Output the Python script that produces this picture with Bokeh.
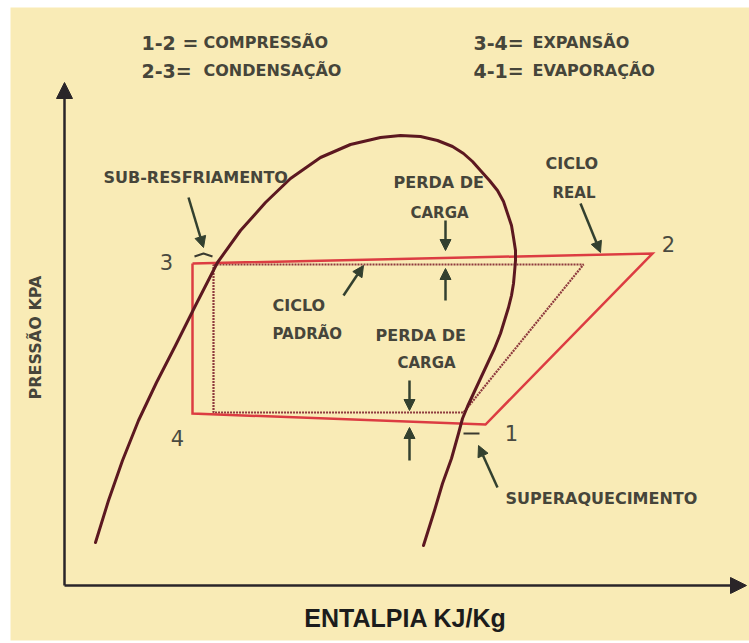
from bokeh.plotting import figure
from bokeh.models import ColumnDataSource, Range1d, Arrow, NormalHead
from bokeh.embed import file_html
from bokeh.resources import INLINE
from bokeh.core.properties import value
import math

# Drawing units: enthalpy h (right) and pressure p (up), origin at the axes corner.

# Saturation dome (liquid branch up to the critical point, then vapour branch down)
dome_h = [31, 44, 58, 74, 92, 111, 132, 153, 176, 201, 226, 256, 286, 316, 336, 356,
          373, 388, 399, 408, 416, 425, 433, 439, 443, 447, 449, 451, 451, 450, 449,
          447, 444, 440, 436, 430, 423, 416, 409, 403, 398, 394, 387, 378, 370, 359]
dome_p = [43, 85, 125, 165, 203, 240, 282, 323, 355, 383, 407, 428, 441, 448, 450, 449,
          445, 439, 432, 424, 415, 405, 395, 384, 372, 360, 348, 335, 325, 313, 302,
          290, 278, 265, 252, 237, 222, 207, 192, 179, 167, 152, 127, 102, 75, 40]

# Real cycle: 3 -> 2 -> 1 -> 4 -> 3
real_h = [128, 588, 421, 128, 128]
real_p = [322, 332, 161, 172, 322]

# Standard (ideal) cycle
std_h = [149, 519, 399, 149, 149]
std_p = [321, 321, 173, 173, 321]

# Sub-cooling and superheating marks
subcool_h = [130, 139, 148]
subcool_p = [329, 332, 329]
superheat_h = [399, 415]
superheat_p = [152, 152]

# State point numbers
pt_text = ["3", "2", "4", "1"]
pt_h = [102, 604, 113, 447]
pt_p = [324, 342, 148, 153]

# Legend of processes
leg_num = ["1-2 =", "2-3=", "3-4=", "4-1="]
leg_word = ["COMPRESSÃO", "CONDENSAÇÃO", "EXPANSÃO", "EVAPORAÇÃO"]
leg_h_num = [77, 77, 409, 409]
leg_h_word = [139, 139, 468, 468]
leg_p = [543, 515, 543, 515]

# Annotation notes
note_text = ["SUB-RESFRIAMENTO", "PERDA DE", "CARGA", "CICLO", "REAL",
             "CICLO", "PADRÃO", "PERDA DE", "CARGA", "SUPERAQUECIMENTO"]
note_h = [39, 329, 346, 481, 488, 208, 208, 311, 333, 441]
note_p = [408, 403, 373, 422, 393, 280, 252, 250, 223, 87]
note_size = ["16px", "16px", "15px", "16px", "15px", "16px", "15px", "16px", "15px", "16px"]

# Pointer arrows (start -> tip)
arr_h0 = [124, 516, 279, 381, 381, 345, 345, 433]
arr_p0 = [388, 382, 290, 365, 285, 205, 125, 98]
arr_h1 = [139, 536, 299, 381, 381, 345, 345, 414]
arr_p1 = [338, 333, 320, 335, 317, 175, 158, 140]

BG = "#f9ebb6"
TXT = "#46453a"
ARR = "#33402f"

p = figure(width=749, height=643, output_backend="svg", toolbar_location=None,
           x_range=Range1d(-64, 685), y_range=Range1d(-58, 585),
           x_axis_location=None, y_axis_location=None, min_border=0)
p.grid.visible = False
p.outline_line_color = None
p.background_fill_color = "white"
p.border_fill_color = "white"

# paper
p.quad(left=[-54], right=[685], bottom=[-55], top=[578], fill_color=BG, line_color=None)

# axes with arrow heads
axes = ColumnDataSource(dict(x0=[0, 0], y0=[0, 0], x1=[0, 682], y1=[503, 0]))
p.add_layout(Arrow(source=axes, x_start="x0", y_start="y0", x_end="x1", y_end="y1",
                   line_color="#2a2528", line_width=2.5,
                   end=NormalHead(size=16, fill_color="#2a2528", line_color="#2a2528")))

# standard cycle (dotted)
p.line(std_h, std_p, line_color="#8e3a3e", line_width=2.2, line_dash="2 1")

# real cycle
p.line(real_h, real_p, line_color="#dc3c42", line_width=2.5, line_join="miter")

# saturation dome
p.line(dome_h, dome_p, line_color="#5c1820", line_width=3, line_join="round", line_cap="round")

# sub-cooling / superheating marks
p.line(subcool_h, subcool_p, line_color="#3a3a30", line_width=2)
p.line(superheat_h, superheat_p, line_color="#3a3a30", line_width=2)

# pointer arrows
arrows = ColumnDataSource(dict(x0=arr_h0, y0=arr_p0, x1=arr_h1, y1=arr_p1))
p.add_layout(Arrow(source=arrows, x_start="x0", y_start="y0", x_end="x1", y_end="y1",
                   line_color=ARR, line_width=2.5,
                   end=NormalHead(size=11, fill_color=ARR, line_color=ARR)))

# process legend
p.text(leg_h_num, leg_p, text=leg_num, text_font=value("DejaVu Sans"), text_font_style="bold",
       text_font_size="19px", text_color=TXT, text_align="left", text_baseline="alphabetic")
p.text(leg_h_word, leg_p, text=leg_word, text_font=value("DejaVu Sans"), text_font_style="bold",
       text_font_size="16px", text_color=TXT, text_align="left", text_baseline="alphabetic")

# notes
notes = ColumnDataSource(dict(x=note_h, y=note_p, t=note_text, s=note_size))
p.text("x", "y", text="t", source=notes, text_font=value("DejaVu Sans"), text_font_style="bold",
       text_font_size="s", text_color=TXT, text_align="left", text_baseline="alphabetic")

# state numbers
p.text(pt_h, pt_p, text=pt_text, text_font=value("DejaVu Sans"), text_font_size="21px",
       text_color="#4a4a40", text_align="center", text_baseline="middle")

# axis titles
p.text([341], [-32], text=["ENTALPIA KJ/Kg"], text_font=value("Liberation Sans"),
       text_font_style="bold", text_font_size="25px", text_color="#1c1c1c",
       text_align="center", text_baseline="middle")
p.text([-29], [248], text=["PRESSÃO KPA"], text_font=value("DejaVu Sans"),
       text_font_style="bold", text_font_size="16px", text_color=TXT,
       text_align="center", text_baseline="middle", angle=math.pi / 2)

open("out.html", "w").write(file_html(p, INLINE))
